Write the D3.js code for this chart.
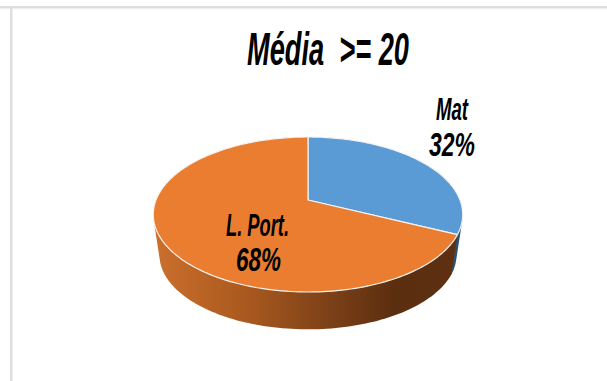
<!DOCTYPE html>
<html>
<head>
<meta charset="utf-8">
<script src="https://cdn.jsdelivr.net/npm/d3@7"></script>
<style>
html,body{margin:0;padding:0;background:#fff;overflow:hidden}
svg{display:block}
text{font-family:"Liberation Sans Narrow","Liberation Sans",sans-serif;font-style:italic;font-weight:700;fill:#000}
</style>
</head>
<body>
<svg id="chart" width="607" height="381"></svg>
<script>
const chartTitle = "Média  >= 20";
const categories = ["Mat", "L. Port."];
const shares = [32, 68];
const sliceColors = ["#5B9BD5", "#EB7D31"];
const sideColors = ["#2F5170", null];

const svg = d3.select("#chart");
const defs = svg.append("defs");

// Chart-area frame: only the top and left edges fall inside the view
svg.append("rect").attr("x", 0).attr("y", 6).attr("width", 607).attr("height", 2.5).attr("fill", "#dedede");
svg.append("rect").attr("x", 10).attr("y", 8).attr("width", 2.5).attr("height", 373).attr("fill", "#dedede");

// Tilted disc: a unit circle seen in perspective, apex at (cx, cy)
const cx = 308, cy = 200, radiusX = 152, radiusY = 74.8, persp = 0.187;
const depthOffset = 41, baseScale = 0.96;

function rim(angle, base) {
  const ux = Math.sin(angle), uy = -Math.cos(angle);
  const w = 1 - persp * uy;
  const s = base ? baseScale : 1;
  return [cx + s * radiusX * ux / w, cy + (base ? depthOffset : 0) + s * radiusY * uy / w];
}
function sampled(a0, a1) {
  const n = Math.max(2, Math.ceil((a1 - a0) * 40));
  return d3.range(n + 1).map(i => a0 + (a1 - a0) * i / n);
}

const pie = d3.pie().sort(null).value(d => d);
const arcs = pie(shares);
const color = d3.scaleOrdinal().domain(categories).range(sliceColors);
const line = d3.line();

// Side wall shading runs from warm orange on the left to deep brown on the right
const grad = defs.append("linearGradient").attr("id", "wall")
  .attr("gradientUnits", "userSpaceOnUse")
  .attr("x1", 155).attr("x2", 462).attr("y1", 0).attr("y2", 0);
[[0, "#CB6F2C"], [0.3, "#A9591F"], [0.55, "#7F4218"], [0.78, "#5B2E10"], [1, "#5F3012"]]
  .forEach(([o, c]) => grad.append("stop").attr("offset", o).attr("stop-color", c));

// Walls, back to front
arcs.forEach((d, i) => {
  const angles = sampled(d.startAngle, d.endAngle);
  const pts = angles.flatMap(a => [rim(a, false), rim(a, true)]);
  svg.append("path")
    .attr("d", line(d3.polygonHull(pts)) + "Z")
    .attr("fill", sideColors[i] || "url(#wall)");
});

// Top face slices with their pale outline
arcs.forEach((d, i) => {
  const pts = [[cx, cy], ...sampled(d.startAngle, d.endAngle).map(a => rim(a, false))];
  svg.append("path")
    .attr("d", line(pts) + "Z")
    .attr("fill", color(categories[i]))
    .attr("stroke", "#f4f4f4")
    .attr("stroke-width", 1.2)
    .attr("stroke-linejoin", "round");
});

// Narrow slanted text fitted to a given width
function label(str, x, baseline, width, size) {
  svg.append("text")
    .attr("x", x).attr("y", baseline)
    .attr("font-size", size)
    .attr("textLength", width)
    .attr("lengthAdjust", "spacingAndGlyphs")
    .style("white-space", "pre")
    .text(str);
}

label(chartTitle, 247, 65, 162, 47);
label(categories[0], 436, 120, 32, 32);
label(shares[0] + "%", 429, 156, 46, 33);
label(categories[1], 226, 236, 63, 32);
label(shares[1] + "%", 236, 271, 45, 33);
</script>
</body>
</html>
